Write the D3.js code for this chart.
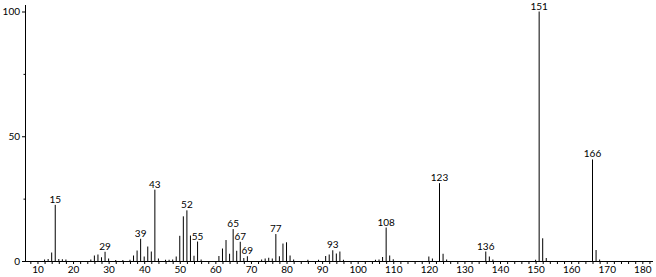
<!DOCTYPE html>
<html>
<head>
<meta charset="utf-8">
<script src="https://cdn.jsdelivr.net/npm/d3@7"></script>
<style>
    body { margin: 0; background: #fff; }
    text { font-family: Lato, "DejaVu Sans", sans-serif; font-size: 10px; fill: #000; }
</style>
</head>
<body>
<div id="chart"></div>
<script>
// m/z values and relative intensities (%)
var mz = [12, 13, 14, 15, 16, 17, 18, 25, 26, 27, 28, 29, 30, 32, 34, 36,
          37, 38, 39, 40, 41, 42, 43, 44, 46, 47, 48, 49, 50, 51, 52, 53, 54, 55, 56,
          61, 62, 63, 64, 65, 66, 67, 68, 69, 73, 74, 75, 76, 77, 78, 79, 80, 81, 82,
          86, 89, 91, 92, 93, 94, 95, 96, 105, 106, 107, 108, 109, 110,
          120, 121, 123, 124, 125, 136, 137, 138, 150, 151, 152, 153, 166, 167, 168];
var intensity = [0.6, 0.8, 3.4, 22.5, 0.8, 0.7, 0.6, 0.6, 2.2, 2.6, 1.5, 3.7, 1.0, 0.4, 0.4, 0.5,
                 2.2, 4.2, 8.9, 1.8, 5.8, 3.8, 28.6, 1.0, 0.5, 0.5, 0.6, 1.8, 10.1, 17.9, 20.3, 10.2, 2.1, 7.8, 0.6,
                 2.0, 5.0, 8.4, 2.9, 12.8, 4.1, 7.7, 1.2, 1.9, 0.6, 1.0, 1.3, 1.0, 10.8, 1.9, 7.0, 7.5, 2.2, 0.6,
                 0.5, 0.5, 2.0, 2.6, 4.3, 3.0, 3.8, 0.5, 0.5, 0.6, 1.6, 13.4, 2.2, 0.7,
                 1.8, 1.0, 31.2, 2.9, 0.6, 3.8, 1.8, 0.6, 0.5, 100, 9.1, 1.2, 40.7, 4.4, 0.6];
var labelled = [15, 29, 39, 43, 52, 55, 65, 67, 69, 77, 93, 108, 123, 136, 151, 166];
var xTicks = [10, 20, 30, 40, 50, 60, 70, 80, 90, 100, 110, 120, 130, 140, 150, 160, 170, 180];
var yTicks = [0, 50, 100];

var width = 656, height = 277;

var svg = d3.select("#chart")
    .append("svg")
        .attr("width", width)
        .attr("height", height);

var x = d3.scaleLinear()
    .domain([6.5, 183])
    .range([25, 653]);

var y = d3.scaleLinear()
    .domain([0, 100])
    .range([261, 11.5]);

// Peaks
var peaks = mz.map(function(d, i) { return {mz: d, val: intensity[i]}; });

svg.selectAll(".peak")
    .data(peaks)
    .enter().append("line")
        .attr("class", "peak")
        .attr("x1", function(d) { return x(d.mz); })
        .attr("x2", function(d) { return x(d.mz); })
        .attr("y1", y(0))
        .attr("y2", function(d) { return y(d.val); })
        .attr("stroke", "#000")
        .attr("stroke-width", 1);

// Peak labels (sit just above the peak top)
svg.selectAll(".plabel")
    .data(peaks.filter(function(d) { return labelled.indexOf(d.mz) >= 0; }))
    .enter().append("text")
        .attr("class", "plabel")
        .attr("x", function(d) { return x(d.mz); })
        .attr("y", function(d) { return y(d.val) - 2; })
        .attr("text-anchor", "middle")
        .text(function(d) { return d.mz; });

// X axis: minor ticks every 2, labels every 10
var xAxis = svg.append("g")
    .attr("transform", "translate(0," + y(0) + ")")
    .call(d3.axisBottom(x)
        .tickValues(d3.range(8, 183, 2))
        .tickSize(3)
        .tickFormat(function(d) { return xTicks.indexOf(d) >= 0 ? d : ""; })
        .tickPadding(2));
xAxis.select(".domain").attr("d", "M25,0.5H653");
xAxis.selectAll(".tick text").attr("font-family", null).attr("font-size", null);

// Y axis
var yAxis = svg.append("g")
    .attr("transform", "translate(25,0)")
    .call(d3.axisLeft(y)
        .tickValues([0, 25, 50, 75, 100])
        .tickSize(3)
        .tickFormat(function(d) { return yTicks.indexOf(d) >= 0 ? d : ""; })
        .tickPadding(2));
yAxis.select(".domain").attr("d", "M0.5,5V261");
yAxis.selectAll(".tick text").attr("font-family", null).attr("font-size", null);
yAxis.selectAll(".tick line").filter(function(d) { return yTicks.indexOf(d) < 0; }).attr("x2", -1.5);
</script>
</body>
</html>
